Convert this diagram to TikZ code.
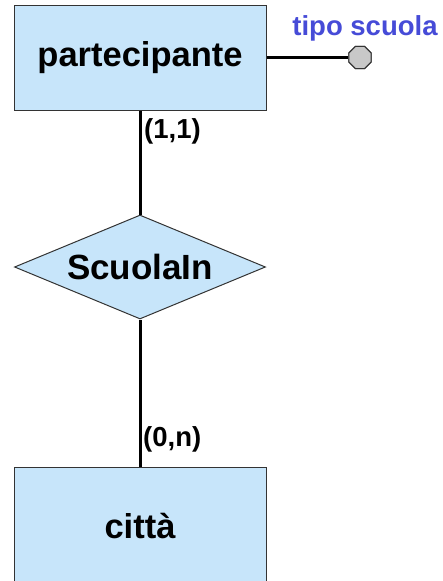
\documentclass[tikz,border=0pt]{standalone}
\usepackage{fontspec}
\setmainfont{Liberation Sans}
\usetikzlibrary{shapes.geometric}
\definecolor{entfill}{RGB}{199,229,250}
\definecolor{attblue}{RGB}{70,75,215}
\definecolor{attgray}{RGB}{200,200,200}
\begin{document}
\begin{tikzpicture}[x=1pt,y=-1pt,
  entity/.style={draw=black!80, line width=1pt, fill=entfill, rectangle, minimum width=252pt, inner sep=0pt,
    font=\fontsize{34.5}{38}\selectfont\bfseries},
  relship/.style={draw=black!80, line width=1pt, fill=entfill, diamond, aspect=2.41, inner sep=0pt,
    minimum width=251pt, minimum height=104pt, font=\fontsize{35}{38}\selectfont\bfseries},
  conn/.style={line width=3pt, black},
  card/.style={font=\fontsize{27.5}{30}\selectfont\bfseries, inner sep=0pt},
  attr/.style={draw=black!80, line width=1pt, fill=attgray, regular polygon, regular polygon sides=8,
    minimum size=24pt, inner sep=0pt},
  attrlabel/.style={text=attblue, font=\fontsize{27.5}{30}\selectfont\bfseries, inner sep=0pt}]
\useasboundingbox (0,0) rectangle (442,581);
\begin{scope}
\clip (0,0) rectangle (442,581);
\node[entity, minimum height=105pt] (p) at (140,57.5) {partecipante};
\node[relship] (r) at (140,267) {ScuolaIn};
\node[entity, minimum height=118pt] (c) at (140,526) {città};
\end{scope}
\node[attr] (a) at (360,57.5) {};
\draw[conn] (p.south) -- (r.north);
\draw[conn] (r.south) -- (c.north);
\draw[conn] (p.east) -- (a.west);
\node[attr] at (a) {};
\node[card, anchor=west] (l1) at (144,131) {(1,1)};
\node[card, anchor=west] (l2) at (143,439) {(0,n)};
\node[attrlabel, anchor=base] (al) at (365,35) {tipo scuola};
\end{tikzpicture}
\end{document}
